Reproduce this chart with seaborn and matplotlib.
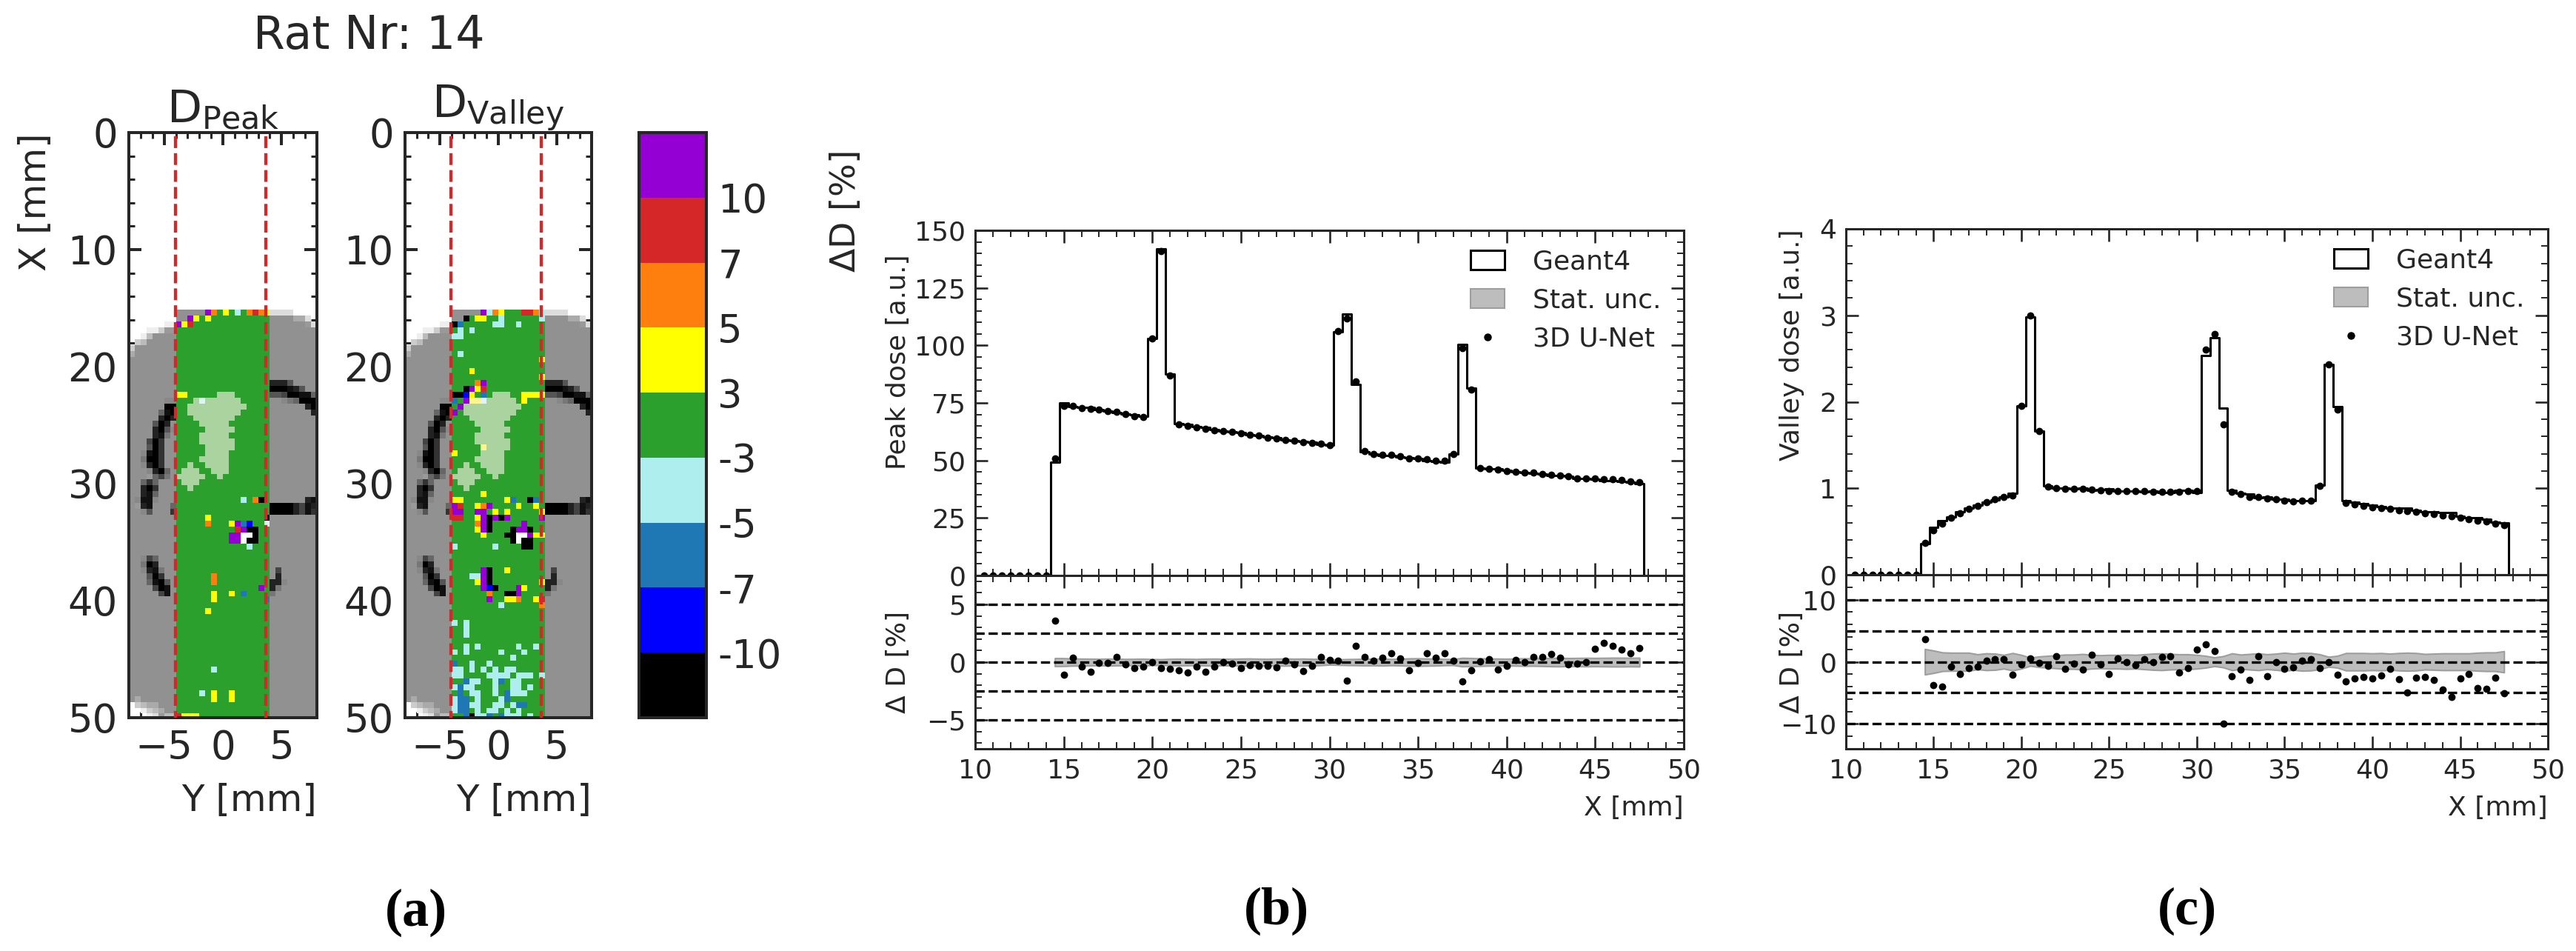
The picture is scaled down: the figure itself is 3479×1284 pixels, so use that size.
import numpy as np
import seaborn as sns
import matplotlib.pyplot as plt
from matplotlib.cm import ScalarMappable
from matplotlib.colors import BoundaryNorm, ListedColormap
from matplotlib.lines import Line2D
from matplotlib.patches import Patch
from matplotlib.ticker import MultipleLocator

# --- dose profiles, 0.5 mm bins ---
bin_x = np.arange(10.5, 48.5, 0.5)
n_empty = 8  # bins in front of the rat, dose is zero

peak_geant = [49.2, 75.0, 73.4, 73.2, 73.1, 72.1, 71.6, 70.8, 70.3, 69.7, 69.3, 102.9, 141.8, 87.5,
              66.1, 65.6, 64.6, 64.3, 63.4, 62.8, 62.5, 62.1, 61.3, 60.9, 60.2, 59.8, 58.9, 58.7,
              58.4, 57.9, 56.9, 56.6, 106.0, 113.6, 83.0, 53.7, 52.8, 52.3, 52.0, 51.5, 51.3, 50.7,
              50.0, 49.6, 49.4, 52.8, 100.4, 81.4, 46.7, 46.4, 46.3, 45.6, 45.1, 44.9, 44.5, 44.0,
              43.4, 43.3, 43.2, 42.3, 42.2, 41.7, 41.3, 41.1, 41.0, 40.5, 40.0]
peak_unet = [50.9, 73.8, 73.7, 72.9, 72.5, 72.1, 71.6, 71.1, 70.2, 69.3, 69.0, 102.9, 141.1, 87.0,
             65.6, 65.0, 64.4, 63.8, 63.2, 62.8, 62.4, 61.8, 61.2, 60.7, 60.0, 59.5, 59.0, 58.6,
             58.0, 57.7, 57.2, 56.7, 106.2, 111.8, 84.2, 54.0, 52.9, 52.5, 52.4, 51.7, 51.0, 50.7,
             50.4, 49.8, 49.8, 52.9, 98.8, 80.8, 46.7, 46.5, 46.0, 45.5, 45.2, 44.9, 44.7, 44.2,
             43.7, 43.5, 43.1, 42.3, 42.2, 42.2, 42.0, 41.7, 41.4, 40.8, 40.5]
peak_diff = [3.6, -1.07, 0.38, -0.38, -0.85, -0.04, -0.06, 0.45, -0.19, -0.51, -0.38, 0.02, -0.51, -0.58,
             -0.7, -0.9, -0.36, -0.81, -0.36, -0.02, -0.13, -0.49, -0.24, -0.34, -0.3, -0.47, 0.11, -0.17,
             -0.77, -0.34, 0.47, 0.21, 0.15, -1.58, 1.43, 0.47, 0.11, 0.41, 0.77, 0.3, -0.68, -0.06,
             0.77, 0.38, 0.79, 0.15, -1.65, -0.73, 0.04, 0.28, -0.64, -0.3, 0.21, 0.0, 0.45, 0.45,
             0.73, 0.38, -0.17, -0.11, -0.02, 1.15, 1.69, 1.39, 1.09, 0.75, 1.22]
peak_unc = [0.35, 0.34, 0.31, 0.30, 0.29, 0.28, 0.30, 0.29, 0.27, 0.28, 0.29, 0.26, 0.25, 0.28,
            0.29, 0.28, 0.27, 0.29, 0.30, 0.29, 0.28, 0.30, 0.31, 0.29, 0.28, 0.30, 0.31, 0.29,
            0.30, 0.28, 0.27, 0.22, 0.24, 0.26, 0.27, 0.29, 0.28, 0.30, 0.27, 0.29, 0.32, 0.33,
            0.31, 0.30, 0.27, 0.26, 0.37, 0.35, 0.33, 0.31, 0.30, 0.29, 0.31, 0.33, 0.32, 0.34,
            0.36, 0.37, 0.35, 0.36, 0.37, 0.36, 0.37, 0.38, 0.38, 0.37, 0.38]

valley_geant = [0.363, 0.546, 0.623, 0.668, 0.728, 0.771, 0.806, 0.839, 0.868, 0.896, 0.94, 1.957, 2.983, 1.665,
                1.027, 0.998, 1.005, 0.994, 1.004, 0.978, 0.981, 0.99, 0.964, 0.97, 0.971, 0.962, 0.964, 0.953,
                0.951, 0.98, 0.976, 0.952, 2.536, 2.739, 1.93, 0.98, 0.946, 0.93, 0.889, 0.903, 0.874, 0.87,
                0.859, 0.855, 0.857, 1.036, 2.431, 1.947, 0.858, 0.839, 0.82, 0.804, 0.788, 0.771, 0.767, 0.775,
                0.749, 0.731, 0.724, 0.721, 0.718, 0.675, 0.659, 0.657, 0.642, 0.61, 0.602]
valley_unet = [0.371, 0.517, 0.591, 0.663, 0.714, 0.763, 0.80, 0.84, 0.871, 0.90, 0.92, 1.949, 2.997, 1.663,
               1.02, 1.006, 0.994, 0.991, 0.991, 0.989, 0.977, 0.971, 0.969, 0.969, 0.966, 0.966, 0.963, 0.96,
               0.96, 0.963, 0.966, 0.971, 2.606, 2.786, 1.737, 0.957, 0.934, 0.903, 0.897, 0.883, 0.874, 0.86,
               0.851, 0.857, 0.86, 1.026, 2.431, 1.906, 0.831, 0.817, 0.80, 0.783, 0.771, 0.763, 0.746, 0.737,
               0.729, 0.714, 0.703, 0.689, 0.677, 0.657, 0.646, 0.629, 0.614, 0.594, 0.571]
valley_diff = [3.63, -3.75, -3.98, -0.72, -1.99, -1.04, -0.72, 0.16, 0.4, 0.4, -2.11, -0.4, 0.48, -0.12,
               -0.64, 0.84, -1.12, -0.32, -1.31, 1.08, -0.4, -1.91, 0.48, -0.08, -0.56, 0.44, -0.08, 0.72,
               0.92, -1.71, -1.04, 1.95, 2.75, 1.71, -10.0, -2.31, -1.24, -2.87, 0.88, -2.27, 0.0, -1.12,
               -0.92, 0.2, 0.36, -1.0, 0.0, -2.11, -3.15, -2.63, -2.43, -2.67, -2.15, -1.08, -2.79, -4.9,
               -2.59, -2.39, -2.95, -4.5, -5.7, -2.67, -1.95, -4.26, -4.38, -2.59, -5.1]
valley_unc = [2.05, 1.8, 1.5, 1.45, 1.45, 1.45, 1.2, 1.35, 1.3, 1.1, 1.4, 1.1, 0.65, 0.85,
              0.95, 1.05, 1.15, 1.15, 1.25, 1.1, 1.05, 1.1, 1.1, 1.15, 1.1, 1.2, 1.3, 1.35,
              1.25, 1.2, 1.2, 1.1, 0.95, 0.7, 0.9, 1.35, 1.15, 1.25, 1.35, 1.2, 1.3, 1.45,
              1.3, 1.45, 1.4, 1.2, 0.8, 0.95, 1.4, 1.4, 1.4, 1.35, 1.4, 1.3, 1.4, 1.45,
              1.4, 1.25, 1.3, 1.35, 1.35, 1.35, 1.35, 1.45, 1.5, 1.5, 1.7]

# --- dose maps, 0.5 mm voxels ---
# bone/tissue outside the beam: row -> left 8 and right 8 voxels, hex grey level, g = tissue, . = air
outside_rows = {
    30: "........DDDD....", 31: "........ggggaaD.", 32: "......eegggggg9d", 33: "...eec99gggggggg",
    34: "..ebgggggggggggg", 35: ".cbggggggggggggg", 36: "cggggggggggggggg", 37: "aggggggggggggggg",
    42: "gggggggg2225gggg", 43: "gggggggg000125gg", 44: "gggggggg55400116", 45: "gggggg88gg876000",
    46: "gggggg00gggggg20", 47: "ggggg610ggggggg2", 48: "ggggg202gggggggg", 49: "gggg502ggggggggg",
    50: "gggg2058gggggggg", 51: "gggg217ggggggggg", 52: "ggg403gggggggggg", 53: "ggg503gggggggggg",
    54: "gg8103gggggggggg", 55: "gg7003gggggggggg", 56: "gg8203gggggggggg", 57: "ggg8206ggggggggg",
    58: "ggg9647ggggggggg", 59: "gg636ggggggggggg", 60: "gg203ggggggggggg", 61: "gg216ggggggggggg",
    62: "g8118ggggggggg21", 63: "g921ggg600002412", 64: "gg85ggg300002413", 72: "gg846ggggggggggg",
    73: "gg702ggggggggggg", 74: "gg8217ggg4gggggg", 75: "ggg503ggg2gggggg", 76: "ggg6105g228ggggg",
    77: "gggg401g27gggggg", 78: "ggggg41g7ggggggg", 96: "gagggggggggggggg", 97: ".cbaaggggggggggg",
    98: "..ecbagggggggggg", 99: "...ed9bbgggggggg",
}

# central 16 voxels inside the field, row -> dose class, rows not listed are all green
peak_rows = {
    30: "     pogygcgoroy", 31: "  pygygggggggggg", 32: "pyrggggggggggggg", 44: "yygggggLLLgggggg",
    45: "gggLeLLLLLLggggg", 46: "ggLLLLLLLLLLgggg", 47: "ggLLLLLLLLLggggg", 48: "gggLLLLLLLgggggg",
    49: "ggggLLLLLggggggg", 50: "gggggLLLLLgggggg", 51: "ggggLLLLLggggggg", 52: "ggggLLLLLLgggggg",
    53: "gggggLLLLLgggggg", 54: "gggggLLLLggggggg", 55: "ggggLLLLLggggggg", 56: "ggLggLLLLggggggg",
    57: "gLLLggLLLggggggg", 58: "LLLLLggLgggggggg", 59: "gLLLgggggggggggg", 60: "ggLggggggggggggg",
    62: "gggggggggggcgokg", 65: "gggggygggggggggk", 66: "gggggogggypbBgge", 67: "ggggggggggrpkkgg",
    68: "gggggggggppwwkgg", 69: "gggggggggppwkkgg", 70: "ggggggggggggcggg", 75: "ggggggoggggggggg",
    76: "ggggggoggggggggg", 77: "ggggggggggggggpg", 78: "ggggggyggygbgggg", 79: "ggggggyggggggggb",
    81: "gggggygggggggggg", 91: "ggggggcggggggggg", 95: "ggggcgyggygggggg", 96: "ggggggyggygggggg",
    99: "ryyygggggggggggg",
}
valley_rows = {
    30: "     pcoygggrroc", 31: "  kgyyggcggggggc", 32: "kbgggggccggcgggg", 33: "gcgcgggggggggggg",
    34: "ccgggggggggggggg", 37: "gcgggggggggggggg", 38: "gggggggggggggggy", 40: "gggygggggggggggg",
    41: "gggggggggggggggy", 42: "ggggopgggggggggg", 43: "ggkpyrgggggggggg", 44: "kkBygbgLLLggyyyy",
    45: "bgplleLLLLLgyggg", 46: "gpLLLLLLLLLLgggg", 47: "pgLLLLLLLLLggggg", 48: "gggLLLLLLLgggggg",
    49: "ggggLLLLLggggggg", 50: "gggggLLLLLgggggg", 51: "ggggLLLLLggggggg", 52: "ggggLLLLLLgggggg",
    53: "ggggglLLLLgggggg", 54: "yggggLLLLggggggg", 55: "ggggLLLLLggggggg", 56: "ggLggLLLLggggggg",
    57: "gLLLggLLLggggggg", 58: "LLLLLggLgggggggg", 59: "gLLLgggggggggggg", 60: "ggLggggggggggggg",
    61: "gggggygggggggggg", 62: "yygggggggybggkbg", 63: "prggyopggggyggyg", 64: "ppggppgygygggggy",
    65: "rrggypkpkpgggggp", 66: "ggggopkgggggpggg", 67: "ggggypkgggkppkgg", 68: "gggggygggkkwwpyy",
    69: "ggggggggggkwkkgg", 70: "cggggggcggggkkgg", 74: "gggggpkggygggggg", 75: "gggccpkggggggggg",
    76: "ggggypkggggggggy", 77: "gggggpBkgggpyggg", 78: "ggggggoggkkpgggg", 79: "ggggggpggyyoggyr",
    80: "ggggggggcggggggo", 83: "cgcggggggggggggg", 84: "ggcggggggggggggg", 85: "ggcggggggggggggg",
    87: "ggcgcggggggcggcg", 88: "cgcgggggcgggcggg", 89: "ggggggggggcggggg", 90: "bggcggcggggggggg",
    91: "ccgcgcgcgccggggg", 92: "ccggggccccgcccgc", 93: "ggbccggcbgccgggg", 94: "cbccgggcggccgcgg",
    95: "gbgccggcgbcccggg", 96: "cbbgcgggcbgggggg", 97: "cbbccggccgcbbggg", 98: "cbbgcgccgcgcgggg",
    99: "ggbkccbgbcccgcgg",
}

# colour bar classes, top to bottom
bar_colors = ["black", "#0000ff", "#1f77b4", "#afeeee", "#2ca02c", "#ffff00", "#ff7f0e", "#d62728", "#9400d3"]
bar_labels = ["-10", "-7", "-5", "-3", "3", "5", "7", "10"]
# the same classes by letter, plus the paler voxels inside the brain
class_codes = "kBbcgyorpwLle"
class_colors = bar_colors + ["white", "#abd3a0", "#fff68f", "#e0f4f3"]

edge_lines_y = [-4.05, 3.67]
row_shift = 0.3  # the voxel grid sits a bit below the tick grid

sns.set_theme(style="ticks")
plt.rcParams["mathtext.default"] = "regular"
DARK = "#262626"
FIG_W, FIG_H = 3480, 1284

fig = plt.figure(figsize=(FIG_W / 100, FIG_H / 100), dpi=100)


def add_axes_px(left, top, right, bottom):
    return fig.add_axes([left / FIG_W, 1 - bottom / FIG_H, (right - left) / FIG_W, (bottom - top) / FIG_H])


def style_spines(ax, width):
    for spine in ax.spines.values():
        spine.set_visible(True)
        spine.set_linewidth(width)
        spine.set_color(DARK)


def build_maps(rows):
    # grey anatomy plus the dose classes inside the field
    grey = np.full((100, 32), 0x91, dtype=float)
    dose = np.full((100, 16), class_codes.index("g"), dtype=float)
    grey[:30] = np.nan
    dose[:30] = np.nan
    for r, txt in outside_rows.items():
        full = txt[:8] + "g" * 16 + txt[8:]
        for c, ch in enumerate(full):
            if ch == ".":
                grey[r, c] = np.nan
            elif ch != "g":
                grey[r, c] = int(ch, 16) * 17
    for r, txt in rows.items():
        for c, ch in enumerate(txt):
            dose[r, c] = np.nan if ch == " " else class_codes.index(ch)
    full_dose = np.full((100, 32), np.nan)
    full_dose[:, 8:24] = dose
    return grey, full_dose


def draw_dose_map(ax, rows, title, show_ylabel):
    grey, dose = build_maps(rows)
    sns.heatmap(grey, ax=ax, cmap="gray", vmin=0, vmax=255, cbar=False, xticklabels=False, yticklabels=False)
    sns.heatmap(dose, ax=ax, cmap=ListedColormap(class_colors), vmin=-0.5, vmax=len(class_colors) - 0.5,
                cbar=False, xticklabels=False, yticklabels=False)
    ax.set_xlim(0, 32)
    ax.set_ylim(100 - row_shift, -row_shift)

    # axes run in voxels, labels in mm
    ax.set_xticks([(v + 8) * 2 for v in (-5, 0, 5)])
    ax.set_xticklabels(["\u22125", "0", "5"])
    ax.set_xticks([(v + 8) * 2 for v in range(-7, 8)], minor=True)
    ax.set_yticks([v * 2 - row_shift for v in range(0, 51, 10)])
    ax.set_yticklabels([str(v) for v in range(0, 51, 10)], rotation=0)
    ax.set_yticks([v * 2 - row_shift for v in range(0, 51, 2)], minor=True)
    ax.tick_params(which="major", direction="in", top=True, right=True, length=12, width=2.9,
                   labelsize=38, color=DARK, pad=11)
    ax.tick_params(which="minor", direction="in", top=True, right=True, length=6, width=2.2, color=DARK)

    for v in edge_lines_y:
        ax.plot([(v + 8) * 2] * 2, [0.3, 100], color="#d62728", lw=3.1, ls="--", zorder=5)

    ax.set_title(title, fontsize=44, color=DARK, pad=7)
    ax.set_xlabel("Y [mm]", fontsize=36, color=DARK, loc="right", labelpad=15)
    if show_ylabel:
        ax.set_ylabel("X [mm]", fontsize=36, color=DARK, loc="top")
        ax.yaxis.set_label_coords(-0.40, 1)
    style_spines(ax, 2.9)


def style_profile_axis(ax, x_major, y_major, y_minor):
    ax.set_xlim(10, 50)
    ax.xaxis.set_major_locator(MultipleLocator(x_major))
    ax.xaxis.set_minor_locator(MultipleLocator(1))
    ax.yaxis.set_major_locator(MultipleLocator(y_major))
    ax.yaxis.set_minor_locator(MultipleLocator(y_minor))
    ax.tick_params(which="major", direction="in", top=True, right=True, length=12, width=1.9,
                   labelsize=26, color=DARK, pad=9)
    ax.tick_params(which="minor", direction="in", top=True, right=True, length=6.5, width=1.4, color=DARK)
    style_spines(ax, 2.2)


def draw_profile(box, geant, unet, diff, unc, dose_lim, diff_lim, dose_major, dose_minor, diff_major, diff_minor,
                 hlines, dose_label, label_x, label_y, legend_x):
    left, top, mid, right, bottom = box
    ax_top = add_axes_px(left, top, right, mid)
    ax_low = add_axes_px(left, mid, right, bottom)

    step_y = [0.0] * n_empty + geant + [0.0]
    dots_y = [0.0] * n_empty + unet
    sns.lineplot(x=bin_x, y=step_y, ax=ax_top, color="black", lw=2.2, drawstyle="steps-mid", errorbar=None)
    sns.scatterplot(x=bin_x[:-1], y=dots_y, ax=ax_top, color="black", s=50, linewidth=0, zorder=4)
    ax_top.set_ylim(*dose_lim)
    style_profile_axis(ax_top, 5, dose_major, dose_minor)
    ax_top.tick_params(labelbottom=False)
    ax_top.set_ylabel(dose_label, fontsize=26, color=DARK, ha="right")
    ax_top.yaxis.set_label_coords(label_x, label_y)

    x_field = bin_x[n_empty:-1]
    unc = np.array(unc)
    ax_low.fill_between(x_field, -unc, unc, facecolor="#bdbdbd", edgecolor="#9e9e9e", lw=1.5, zorder=1)
    for v in hlines:
        ax_low.axhline(v, color="black", lw=2.4, ls="--", zorder=2)
    sns.scatterplot(x=x_field, y=diff, ax=ax_low, color="black", s=50, linewidth=0, zorder=4)
    ax_low.set_ylim(*diff_lim)
    style_profile_axis(ax_low, 5, diff_major, diff_minor)
    ax_low.set_xlabel("X [mm]", fontsize=26, color=DARK, loc="right", labelpad=12)
    ax_low.set_ylabel("\u0394 D [%]", fontsize=26, color=DARK)
    ax_low.yaxis.set_label_coords(label_x, 0.5)

    handles = [Patch(facecolor="white", edgecolor="black", lw=2.2),
               Patch(facecolor="#bdbdbd", edgecolor="#9e9e9e", lw=1.5),
               Line2D([], [], ls="", marker="o", color="black", ms=6.5)]
    ax_top.legend(handles, ["Geant4", "Stat. unc.", "3D U-Net"], loc="upper left",
                  bbox_to_anchor=(legend_x, 0.945), frameon=False, fontsize=26, borderpad=0, borderaxespad=0,
                  handlelength=1.28, handleheight=0.75, handletextpad=1.05, labelspacing=0.5,
                  labelcolor=DARK)


# panel (a)
ax_peak = add_axes_px(174, 179, 428, 969)
ax_valley = add_axes_px(547, 179, 799, 969)
draw_dose_map(ax_peak, peak_rows, r"$D_{Peak}$", True)
draw_dose_map(ax_valley, valley_rows, r"$D_{Valley}$", False)

cax = add_axes_px(863, 179, 954, 969)
bar_edges = np.arange(len(bar_colors) + 1)
mappable = ScalarMappable(norm=BoundaryNorm(bar_edges, len(bar_colors)), cmap=ListedColormap(bar_colors))
cbar = fig.colorbar(mappable, cax=cax, boundaries=bar_edges, drawedges=False)
cbar.set_ticks(bar_edges[1:-1], labels=bar_labels)
cbar.ax.set_yticks([v / 4 for v in range(0, 37)], minor=True)
cbar.ax.tick_params(which="major", direction="in", length=12, width=2.9, labelsize=38, color=DARK,
                    labelcolor=DARK, pad=11)
cbar.ax.tick_params(which="minor", direction="in", length=6, width=2.2, color=DARK)
cbar.set_label(r"$\Delta D$ [%]", fontsize=34, color=DARK, loc="top")
cbar.ax.yaxis.set_label_coords(2.81, 0.968)
style_spines(cbar.ax, 2.9)
cbar.outline.set_linewidth(2.9)
cbar.outline.set_color(DARK)

fig.text(498 / FIG_W, 1 - 49 / FIG_H, "Rat Nr: 14", fontsize=44.5, color=DARK, ha="center", va="center")

# panels (b) and (c)
draw_profile((1317, 311, 777, 2274, 1011), peak_geant, peak_unet, peak_diff, peak_unc,
             (0, 150), (-7.5, 7.5), 25, 5, 5, 1, [-5, -2.5, 0, 2.5, 5],
             "Peak dose [a.u.]", -0.0904, 0.93, 0.699)
draw_profile((2493, 309, 776, 3441, 1011), valley_geant, valley_unet, valley_diff, valley_unc,
             (0, 4), (-14, 14), 1, 0.2, 10, 2, [-10, -5, 0, 5, 10],
             "Valley dose [a.u.]", -0.059, 1.0, 0.695)

for label, x_px, y_px in [("(a)", 562, 1232), ("(b)", 1724, 1230), ("(c)", 2954, 1230)]:
    fig.text(x_px / FIG_W, 1 - y_px / FIG_H, label, fontsize=52, fontweight="bold", family="Liberation Serif",
             color="black", ha="center", va="center")

fig.savefig("out.png", dpi=100)
